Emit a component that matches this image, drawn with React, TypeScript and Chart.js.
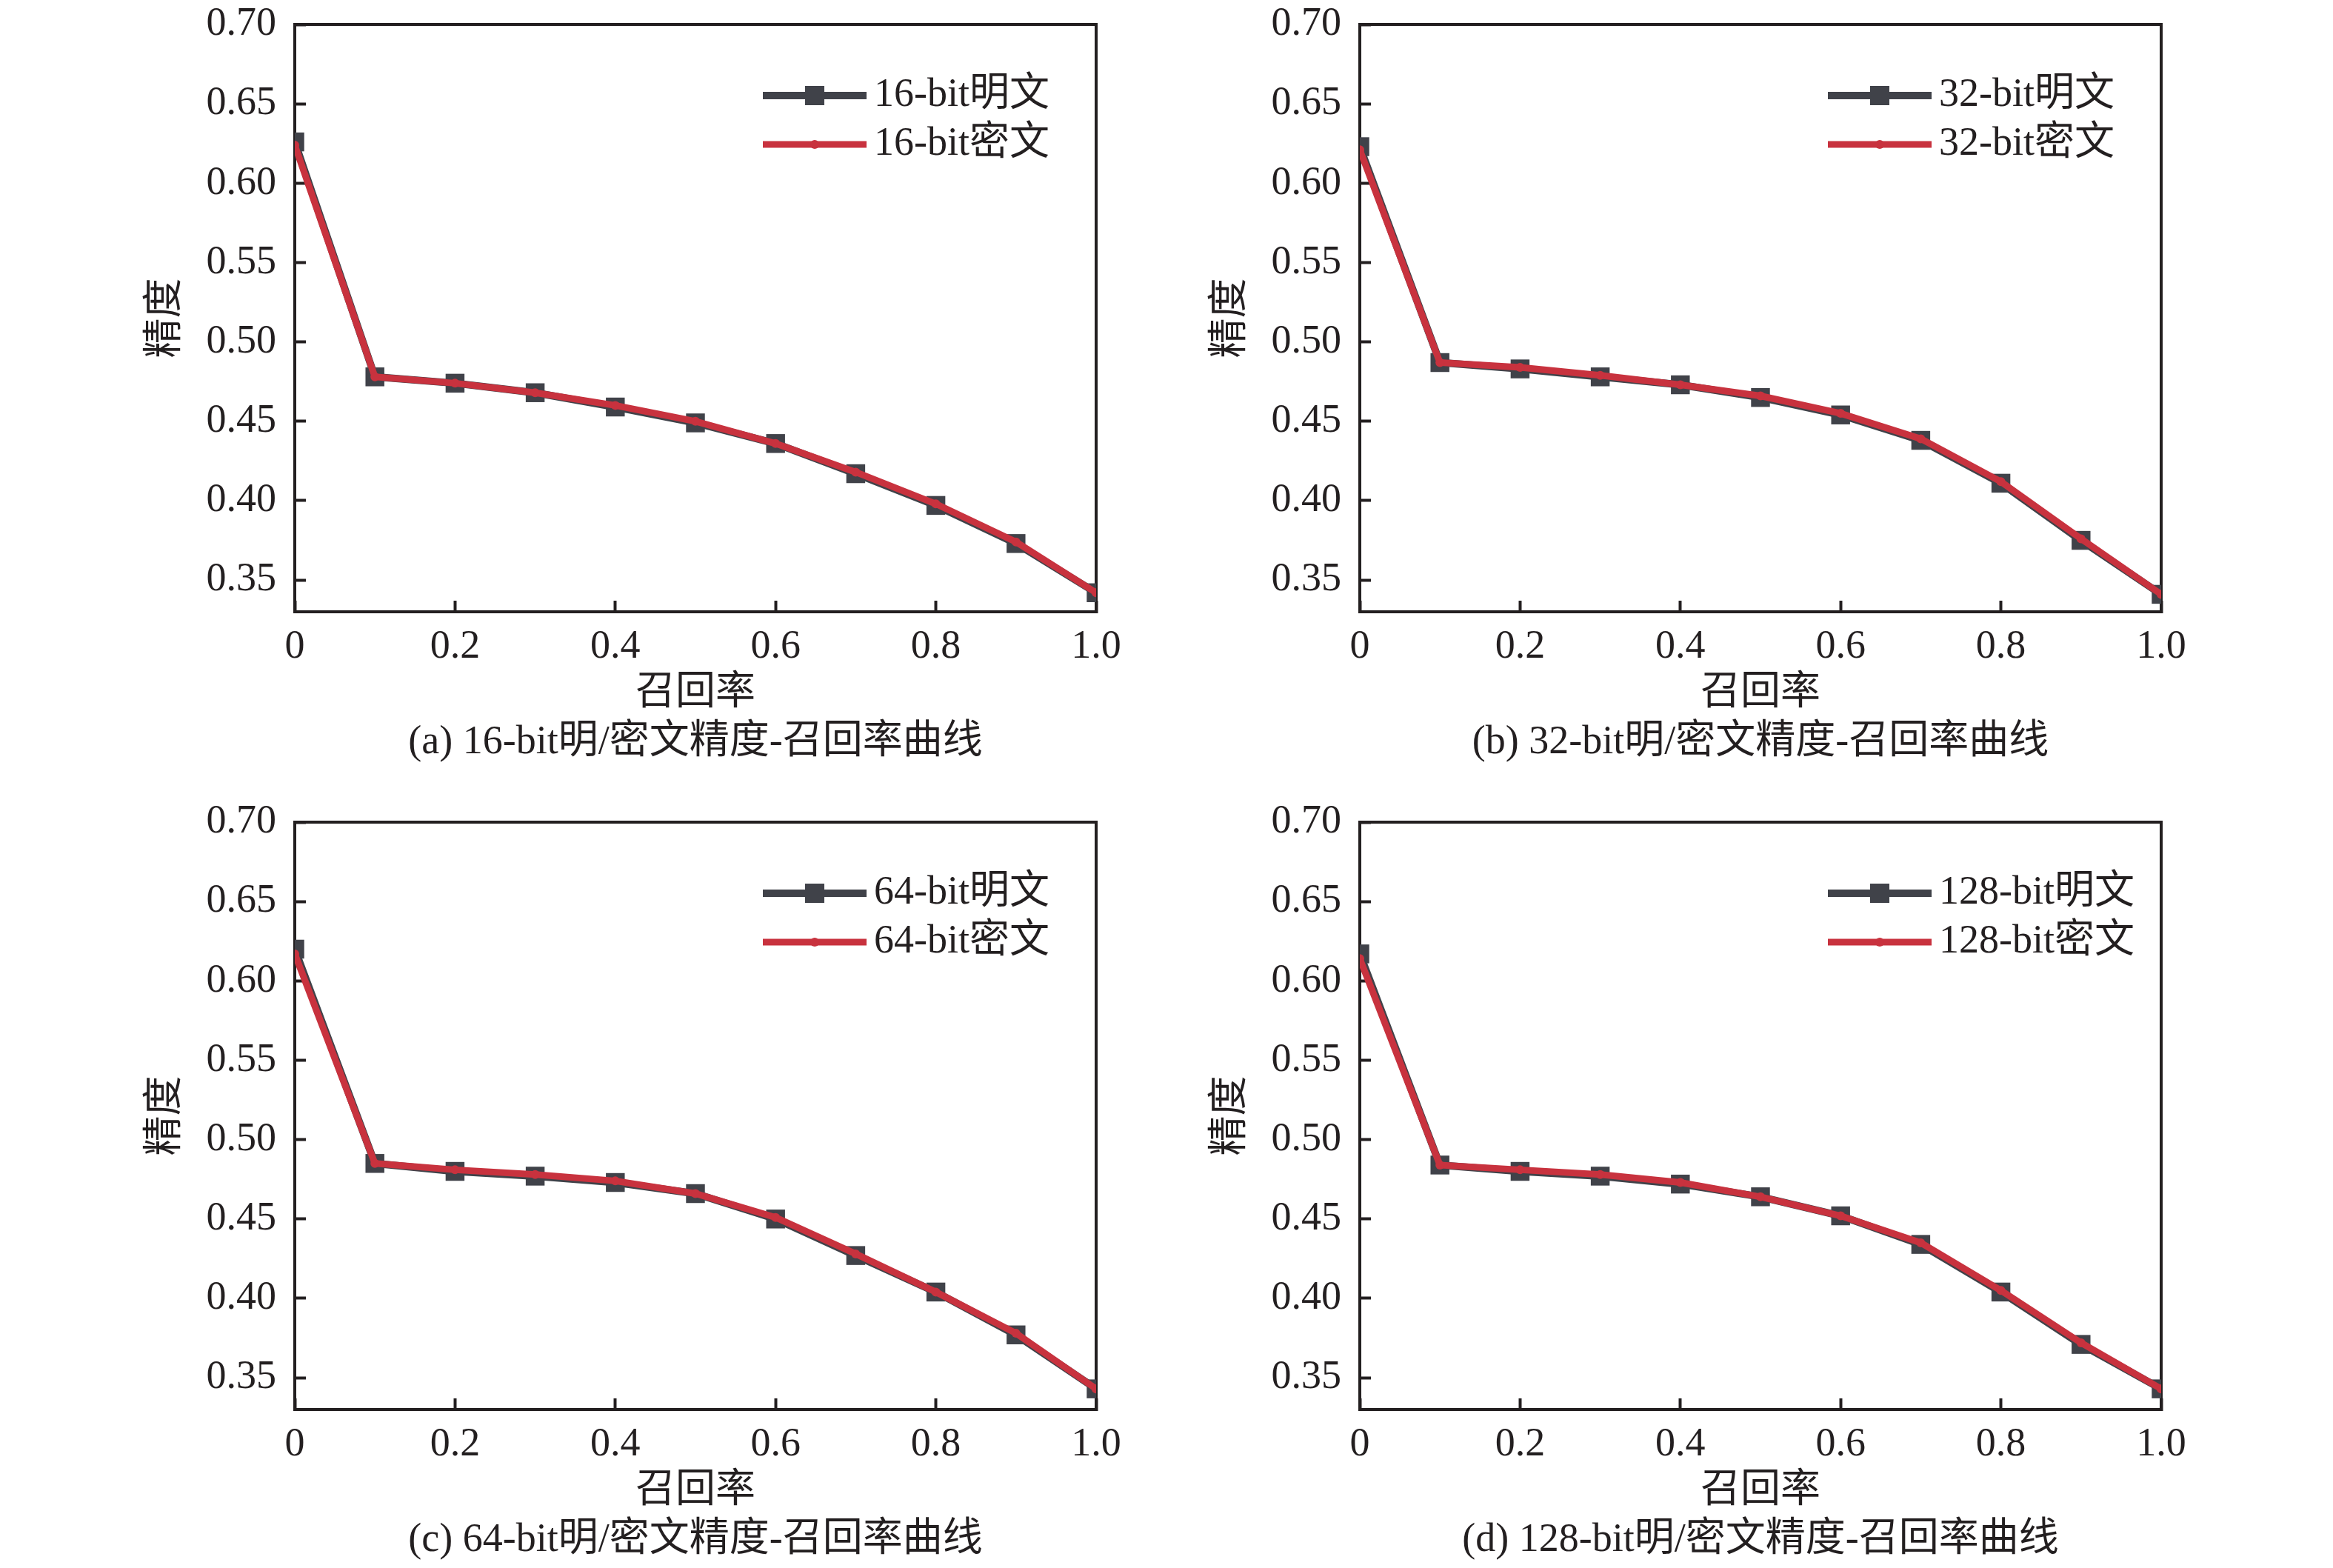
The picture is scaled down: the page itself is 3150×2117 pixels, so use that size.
import React, { useEffect, useRef } from "react";
import { Chart, registerables } from "chart.js";

Chart.register(...registerables);

// recall values on the x axis
const recall = [0, 0.1, 0.2, 0.3, 0.4, 0.5, 0.6, 0.7, 0.8, 0.9, 1.0];

// precision
const plain16 = [0.626, 0.478, 0.474, 0.468, 0.459, 0.449, 0.436, 0.417, 0.397, 0.373, 0.342];
const cipher16 = [0.624, 0.478, 0.474, 0.468, 0.460, 0.450, 0.436, 0.418, 0.398, 0.374, 0.342];

const plain32 = [0.623, 0.487, 0.483, 0.478, 0.473, 0.465, 0.454, 0.438, 0.411, 0.375, 0.341];
const cipher32 = [0.621, 0.487, 0.484, 0.479, 0.473, 0.466, 0.455, 0.439, 0.412, 0.376, 0.341];

const plain64 = [0.620, 0.485, 0.480, 0.477, 0.473, 0.466, 0.450, 0.427, 0.404, 0.377, 0.343];
const cipher64 = [0.617, 0.485, 0.481, 0.478, 0.474, 0.466, 0.451, 0.428, 0.404, 0.378, 0.343];

const plain128 = [0.617, 0.484, 0.480, 0.477, 0.472, 0.464, 0.452, 0.434, 0.404, 0.371, 0.343];
const cipher128 = [0.614, 0.484, 0.481, 0.478, 0.473, 0.464, 0.452, 0.435, 0.405, 0.372, 0.343];

const yTicks = [0.35, 0.4, 0.45, 0.5, 0.55, 0.6, 0.65, 0.7];
const xTicks = [0, 0.2, 0.4, 0.6, 0.8, 1.0];
const xTickLabels = ["0", "0.2", "0.4", "0.6", "0.8", "1.0"];

const DARK = "#404249";
const RED = "#c8323e";
const INK = "#231f20";
const FAMILY = "'Liberation Serif', 'Noto Sans CJK SC', serif";
const font = { family: FAMILY, size: 54, lineHeight: 1 };

// box on top/right + legend drawn inside the plot
const framePlugin = {
  id: "frame",
  beforeDatasetsDraw(chart: any) {
    const { ctx, chartArea } = chart;
    ctx.save();
    ctx.strokeStyle = INK;
    ctx.lineWidth = 4;
    ctx.beginPath();
    ctx.moveTo(chartArea.left, chartArea.top);
    ctx.lineTo(chartArea.right, chartArea.top);
    ctx.lineTo(chartArea.right, chartArea.bottom);
    ctx.stroke();
    ctx.restore();
  },
};

const legendRows = [96, 162];

const legendPlugin = {
  id: "insideLegend",
  afterDraw(chart: any) {
    const { ctx, chartArea } = chart;
    const x1 = chartArea.right - 450;
    const x2 = chartArea.right - 310;
    const mid = (x1 + x2) / 2;
    chart.data.datasets.forEach((ds: any, i: number) => {
      const y = chartArea.top + legendRows[i];
      ctx.save();
      ctx.strokeStyle = ds.borderColor;
      ctx.lineWidth = ds.borderWidth;
      ctx.beginPath();
      ctx.moveTo(x1, y);
      ctx.lineTo(x2, y);
      ctx.stroke();
      ctx.fillStyle = ds.borderColor;
      if (ds.pointStyle === "rect") {
        ctx.fillRect(mid - 13, y - 13, 26, 26);
      } else {
        ctx.beginPath();
        ctx.arc(mid, y, ds.pointRadius, 0, Math.PI * 2);
        ctx.fill();
      }
      ctx.fillStyle = INK;
      ctx.font = `54px ${FAMILY}`;
      ctx.textAlign = "left";
      ctx.textBaseline = "middle";
      ctx.fillText(ds.label, chartArea.right - 300, y);
      ctx.restore();
    });
  },
};

interface PanelProps {
  bits: string;
  caption: string;
  plain: number[];
  cipher: number[];
  left: number;
  top: number;
}

const Panel: React.FC<PanelProps> = ({ bits, caption, plain, cipher, left, top }) => {
  const canvasRef = useRef<HTMLCanvasElement>(null);
  const chartRef = useRef<Chart | null>(null);

  useEffect(() => {
    if (!canvasRef.current) return;
    if (chartRef.current) chartRef.current.destroy();

    chartRef.current = new Chart(canvasRef.current, {
      type: "line",
      data: {
        datasets: [
          {
            label: `${bits}明文`,
            data: recall.map((x, i) => ({ x, y: plain[i] })),
            borderColor: DARK,
            backgroundColor: DARK,
            borderWidth: 10,
            pointStyle: "rect",
            pointRadius: 18,
            pointBorderWidth: 0,
            clip: 0,
            order: 2,
          },
          {
            label: `${bits}密文`,
            data: recall.map((x, i) => ({ x, y: cipher[i] })),
            borderColor: RED,
            backgroundColor: RED,
            borderWidth: 9,
            pointStyle: "circle",
            pointRadius: 6,
            pointBorderWidth: 0,
            clip: 0,
            order: 1,
          },
        ],
      } as any,
      options: {
        animation: false,
        responsive: true,
        maintainAspectRatio: false,
        layout: { padding: { top: 33, left: 0, right: 55, bottom: 10 } },
        plugins: {
          legend: { display: false },
          tooltip: { enabled: false },
          title: {
            display: true,
            text: caption,
            position: "bottom",
            fullSize: false,
            color: INK,
            font: { ...font, weight: "normal" },
            padding: { top: 12, bottom: 0 },
          },
        },
        scales: {
          x: {
            type: "linear",
            min: 0,
            max: 1,
            afterBuildTicks: (s: any) => {
              s.ticks = xTicks.map((v) => ({ value: v }));
            },
            afterFit: (s: any) => {
              s.height = 138;
              s.paddingLeft = 0;
              s.paddingRight = 0;
            },
            ticks: {
              callback: (v: any) => xTickLabels[xTicks.indexOf(v)],
              color: INK,
              font,
              padding: 36,
              maxRotation: 0,
              autoSkip: false,
            },
            grid: { drawOnChartArea: false, tickLength: -15, tickWidth: 4, tickColor: INK },
            border: { display: true, width: 4, color: INK },
            title: {
              display: true,
              text: "召回率",
              color: INK,
              font,
              padding: { top: 13, bottom: 0 },
            },
          },
          y: {
            min: 0.33,
            max: 0.7,
            afterBuildTicks: (s: any) => {
              s.ticks = yTicks.map((v) => ({ value: v }));
            },
            afterFit: (s: any) => {
              s.width = 298;
              s.paddingTop = 0;
              s.paddingBottom = 0;
            },
            ticks: {
              callback: (v: any) => Number(v).toFixed(2),
              color: INK,
              font,
              padding: 40,
            },
            grid: { drawOnChartArea: false, tickLength: -15, tickWidth: 4, tickColor: INK },
            border: { display: true, width: 4, color: INK },
            title: {
              display: true,
              text: "精度",
              color: INK,
              font,
              padding: { top: 98, bottom: 0 },
            },
          },
        },
      } as any,
      plugins: [framePlugin, legendPlugin],
    });

    return () => {
      if (chartRef.current) {
        chartRef.current.destroy();
        chartRef.current = null;
      }
    };
  }, [bits, caption, plain, cipher]);

  return (
    <div style={{ position: "absolute", left, top, width: 1435, height: 1040 }}>
      <canvas ref={canvasRef}></canvas>
    </div>
  );
};

export default function App() {
  return (
    <div
      style={{
        position: "absolute",
        left: 0,
        top: 0,
        width: 3150,
        height: 2117,
        background: "#fff",
        overflow: "hidden",
      }}
    >
      <Panel bits="16-bit" caption="(a) 16-bit明/密文精度-召回率曲线" plain={plain16} cipher={cipher16} left={100} top={0} />
      <Panel bits="32-bit" caption="(b) 32-bit明/密文精度-召回率曲线" plain={plain32} cipher={cipher32} left={1538} top={0} />
      <Panel bits="64-bit" caption="(c) 64-bit明/密文精度-召回率曲线" plain={plain64} cipher={cipher64} left={100} top={1077} />
      <Panel bits="128-bit" caption="(d) 128-bit明/密文精度-召回率曲线" plain={plain128} cipher={cipher128} left={1538} top={1077} />
    </div>
  );
}
